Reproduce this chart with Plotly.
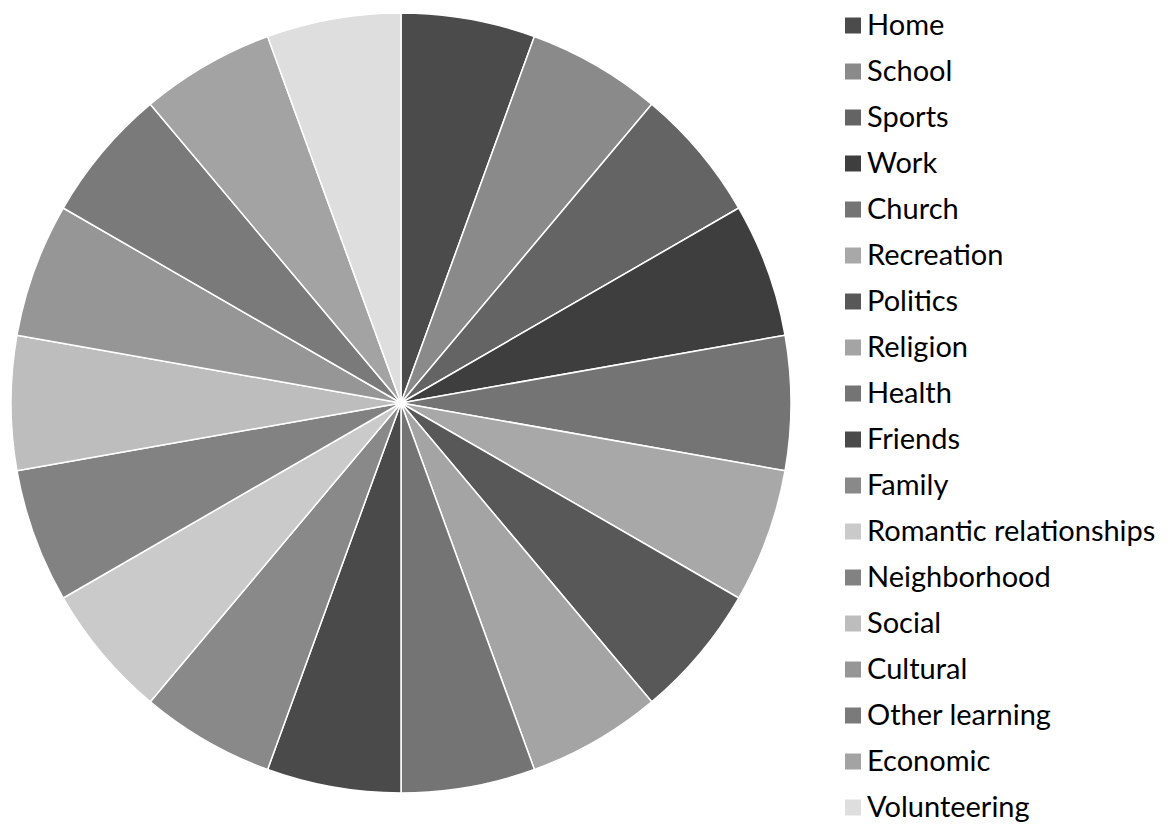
import plotly.graph_objects as go
import numpy as np

labels = ["Home", "School", "Sports", "Work", "Church", "Recreation", "Politics",
          "Religion", "Health", "Friends", "Family", "Romantic relationships",
          "Neighborhood", "Social", "Cultural", "Other learning", "Economic",
          "Volunteering"]
values = [1] * 18
colors = ["#4B4B4B", "#8A8A8A", "#646464", "#3E3E3E", "#747474", "#A8A8A8",
          "#585858", "#A4A4A4", "#747474", "#4A4A4A", "#898989", "#CACACA",
          "#828282", "#BDBDBD", "#969696", "#7A7A7A", "#A3A3A3", "#DEDEDE"]

W, H = 1172, 825
FONT = "Lato"

fig = go.Figure()
fig.add_trace(go.Pie(
    labels=labels, values=values, sort=False, direction="clockwise", rotation=0,
    marker=dict(colors=colors, line=dict(color="white", width=1.5)),
    textinfo="none", hoverinfo="label+percent", showlegend=False,
    domain=dict(x=[11 / W, 791 / W], y=[(H - 793) / H, (H - 13) / H]),
))

idx = np.arange(len(labels))
fig.add_trace(go.Scatter(
    x=[853] * len(labels), y=idx, mode="markers",
    marker=dict(symbol="square", size=16, color=colors, line=dict(width=0)),
    hoverinfo="skip", showlegend=False, cliponaxis=False,
))
fig.add_trace(go.Scatter(
    x=[867] * len(labels), y=idx + 0.05, mode="text", text=labels,
    textposition="middle right",
    textfont=dict(family=FONT, size=29, color="#000000"),
    hoverinfo="skip", showlegend=False, cliponaxis=False,
))

top = -25.5 / 46
bottom = (H - 25.5) / 46
fig.update_layout(
    width=W, height=H, margin=dict(l=0, r=0, t=0, b=0),
    paper_bgcolor="white", plot_bgcolor="rgba(0,0,0,0)",
    xaxis=dict(range=[0, W], domain=[0, 1], visible=False, fixedrange=True),
    yaxis=dict(range=[bottom, top], domain=[0, 1], visible=False, fixedrange=True),
    showlegend=False,
)
fig.write_html("out.html")
